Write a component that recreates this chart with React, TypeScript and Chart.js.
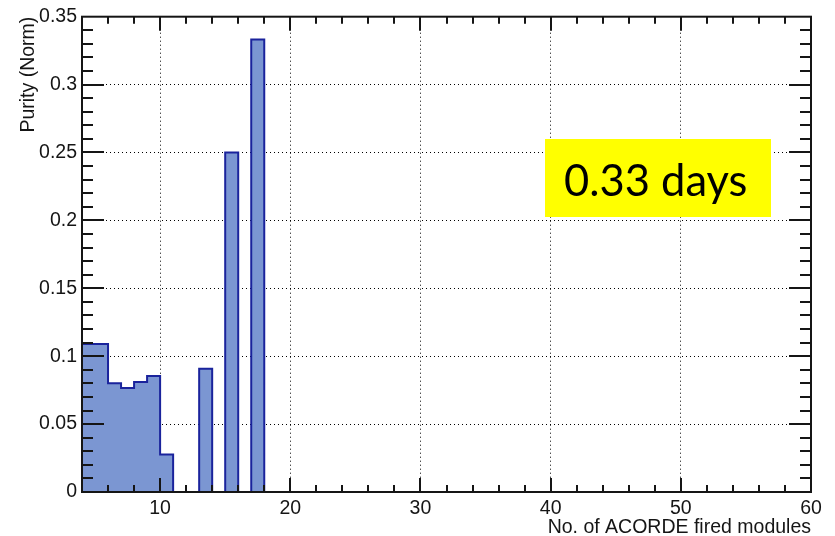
import React, { useEffect, useRef } from 'react';
import { Chart, registerables } from 'chart.js';

Chart.register(...registerables);

// ---- data ----
const binEdges = [4, 5, 6, 7, 8, 9, 10, 11, 12, 13, 14, 15, 16, 17, 18];
const purity = [0.109, 0.109, 0.080, 0.0765, 0.081, 0.0855, 0.0277, 0, 0, 0.0907, 0, 0.25, 0, 0.3333];
const xTickValues = [10, 20, 30, 40, 50, 60];
const yTickValues = [0, 0.05, 0.1, 0.15, 0.2, 0.25, 0.3, 0.35];
const yTickLabels = ['0', '0.05', '0.1', '0.15', '0.2', '0.25', '0.3', '0.35'];
const xTitle = 'No. of ACORDE fired modules';
const yTitle = 'Purity (Norm)';
const noteText = '0.33 days';

const X_MIN = 4;
const X_MAX = 60;
const Y_MIN = 0;
const Y_MAX = 0.35;
const X_MINOR = 2;
const Y_MINOR_COUNT = 35; // minor every 0.01
const FONT = 'Liberation Sans, Arial, Helvetica, sans-serif';
const FONT_SIZE = 19.5;
const INK = '#151515';

const rootFramePlugin = {
  id: 'rootFrame',
  afterDatasetsDraw(chart: any) {
    const { ctx, chartArea: a, scales } = chart;
    const x = scales.x;
    const y = scales.y;
    ctx.save();
    ctx.strokeStyle = INK;
    ctx.lineWidth = 2;
    ctx.beginPath();
    // x ticks (bottom and top, inside)
    for (let v = X_MIN; v <= X_MAX; v += X_MINOR) {
      if (v === X_MIN || v === X_MAX) continue;
      const major = v % 10 === 0;
      const len = major ? 14 : 7;
      const px = Math.round(x.getPixelForValue(v));
      ctx.moveTo(px, a.bottom);
      ctx.lineTo(px, a.bottom - len);
      ctx.moveTo(px, a.top);
      ctx.lineTo(px, a.top + len);
    }
    // y ticks (left and right, inside)
    for (let i = 1; i < Y_MINOR_COUNT; i++) {
      const v = i * 0.01;
      const major = i % 5 === 0;
      const len = major ? 22 : 11;
      const py = Math.round(y.getPixelForValue(v));
      ctx.moveTo(a.left, py);
      ctx.lineTo(a.left + len, py);
      ctx.moveTo(a.right, py);
      ctx.lineTo(a.right - len, py);
    }
    ctx.stroke();
    // frame
    ctx.lineWidth = 2;
    ctx.strokeRect(a.left, a.top, a.right - a.left, a.bottom - a.top);
    ctx.restore();
  },
  afterDraw(chart: any) {
    const { ctx } = chart;
    ctx.save();
    ctx.fillStyle = '#ffff00';
    ctx.fillRect(545, 139, 226, 78);
    ctx.fillStyle = '#000000';
    ctx.font = '43.5px Lato, "Open Sans", sans-serif';
    ctx.textBaseline = 'alphabetic';
    ctx.textAlign = 'left';
    ctx.fillText(noteText, 564, 196);
    ctx.restore();
  },
};

export default function App() {
  const ref = useRef<HTMLCanvasElement | null>(null);

  useEffect(() => {
    document.body.style.margin = '0';
    const canvas = ref.current;
    if (!canvas) return;

    const points = purity.map((v, i) => ({ x: binEdges[i], y: v }));
    points.push({ x: binEdges[binEdges.length - 1], y: 0 });

    const chart = new Chart(canvas, {
      type: 'line',
      data: {
        datasets: [
          {
            label: 'purity',
            data: points,
            stepped: true,
            fill: 'origin',
            backgroundColor: '#7b96d2',
            borderColor: '#1a239c',
            borderWidth: 2,
            pointRadius: 0,
            tension: 0,
          } as any,
        ],
      },
      options: {
        animation: false,
        responsive: false,
        maintainAspectRatio: false,
        devicePixelRatio: 1,
        layout: { padding: { left: 0, right: 24, top: 16, bottom: 0 } },
        plugins: {
          legend: { display: false },
          tooltip: { enabled: false },
        },
        scales: {
          x: {
            type: 'linear',
            min: X_MIN,
            max: X_MAX,
            afterBuildTicks: (s: any) => {
              s.ticks = xTickValues.map((v) => ({ value: v }));
            },
            afterFit: (s: any) => {
              s.height = 44;
            },
            ticks: {
              autoSkip: false,
              maxRotation: 0,
              padding: 5,
              color: INK,
              font: { family: FONT, size: FONT_SIZE },
              callback: (v: any) => String(v),
            },
            grid: {
              drawTicks: false,
              lineWidth: 1,
              color: (c: any) => (c.tick && c.tick.value === X_MAX ? 'rgba(0,0,0,0)' : '#000'),
            },
            border: { display: false, dash: [1, 3] },
            title: {
              display: true,
              text: xTitle,
              align: 'end',
              color: INK,
              font: { family: FONT, size: FONT_SIZE },
              padding: { top: 0, bottom: -3 },
            },
          },
          y: {
            type: 'linear',
            min: Y_MIN,
            max: Y_MAX,
            afterBuildTicks: (s: any) => {
              s.ticks = yTickValues.map((v) => ({ value: v }));
            },
            afterFit: (s: any) => {
              s.width = 82;
            },
            ticks: {
              autoSkip: false,
              padding: 5,
              color: INK,
              font: { family: FONT, size: FONT_SIZE },
              callback: (_v: any, i: number) => yTickLabels[i],
            },
            grid: {
              drawTicks: false,
              lineWidth: 1,
              color: (c: any) =>
                c.tick && (c.tick.value === Y_MIN || c.tick.value === Y_MAX) ? 'rgba(0,0,0,0)' : '#000',
            },
            border: { display: false, dash: [1, 3] },
            title: {
              display: true,
              text: yTitle,
              align: 'end',
              color: INK,
              font: { family: FONT, size: FONT_SIZE },
              padding: { top: 17, bottom: 0 },
            },
          },
        },
      } as any,
      plugins: [rootFramePlugin],
    });

    return () => {
      chart.destroy();
    };
  }, []);

  return (
    <div style={{ position: 'absolute', left: 0, top: 0, width: 835, height: 536, background: '#fff' }}>
      <canvas ref={ref} width={835} height={536} style={{ display: 'block', width: 835, height: 536 }} />
    </div>
  );
}
